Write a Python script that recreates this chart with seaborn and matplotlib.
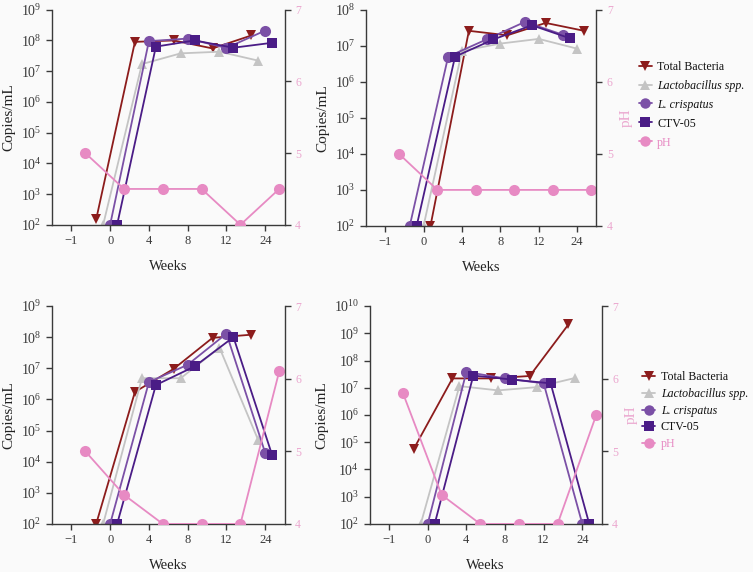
import numpy as np
import seaborn as sns
import matplotlib.pyplot as plt
from matplotlib.lines import Line2D
from matplotlib.ticker import LogLocator, NullLocator, LogFormatterMathtext

nan = np.nan

weeks = ["\u22121", "0", "4", "8", "12", "24"]
names = ["Total Bacteria", "Lactobacillus spp.", "L. crispatus", "CTV-05", "pH"]

# panel A (top left)
tb_a = [nan, 150, 9e7, 1.0e8, 5.5e7, 1.45e8]
lacto_a = [nan, 100, 1.7e7, 3.8e7, 4.3e7, 2.2e7]
crisp_a = [nan, 100, 9.5e7, 1.15e8, 5.7e7, 2.1e8]
ctv_a = [nan, 100, 6.3e7, 1.0e8, 5.8e7, 8.4e7]
ph_a = [5.0, 4.5, 4.5, 4.5, 4.0, 4.5]

# panel B (top right)
tb_b = [nan, 100, 2.6e7, 1.95e7, 4.3e7, 2.6e7]
lacto_b = [nan, 100, 7.2e6, 1.15e7, 1.55e7, 8.3e6]
crisp_b = [nan, 100, 5e6, 1.5e7, 4.6e7, 2e7]
ctv_b = [nan, 100, 5e6, 1.5e7, 3.7e7, 1.6e7]
ph_b = [5.0, 4.5, 4.5, 4.5, 4.5, 4.5]

# panel C (bottom left)
tb_c = [nan, 100, 1.75e6, 9.6e6, 9.5e7, 1.2e8]
lacto_c = [nan, 100, 4.8e6, 4.8e6, 4.6e7, 4.9e4]
crisp_c = [nan, 100, 3.6e6, 1.3e7, 1.3e8, 1.9e4]
ctv_c = [nan, 100, 2.9e6, 1.15e7, 1.0e8, 1.6e4]
ph_c = [5.0, 4.4, 4.0, 4.0, 4.0, 6.1]

# panel D (bottom right)
tb_d = [nan, 5.7e4, 2.2e7, 2.2e7, 2.7e7, 2.1e9]
lacto_d = [nan, 100, 1.15e7, 8e6, 1.05e7, 2.3e7]
crisp_d = [nan, 100, 3.8e7, 2.2e7, 1.45e7, 100]
ctv_d = [nan, 100, 2.8e7, 2e7, 1.45e7, 100]
ph_d = [5.8, 4.4, 4.0, 4.0, 4.0, 5.5]

colors = ["#8c1c1c", "#c4c4c4", "#7b50a6", "#4a1c86", "#e78ac3"]
markers = ["v", "^", "o", "s", "o"]
sizes = [7.5, 7.5, 8, 7.5, 8]
ph_text = "#eba7cf"

sns.set_style("ticks")
plt.rcParams['font.family'] = ['Liberation Serif', 'DejaVu Serif']
plt.rcParams['mathtext.fontset'] = 'custom'
plt.rcParams['mathtext.rm'] = 'Liberation Serif'
plt.rcParams['mathtext.default'] = 'regular'

bg = "#fafafa"
dark = "#3a3a3a"
fig = plt.figure(figsize=(7.53, 5.72), dpi=100, facecolor=bg)


def panel(rect, series, offsets, ymax, legend_at=None, spacing=0.5):
    ax = fig.add_axes(rect, facecolor=bg)
    ax2 = ax.twinx()
    ax.set_yscale('log')
    x = np.arange(len(weeks))
    for i in range(4):
        sns.lineplot(x=x + offsets[i], y=series[i], ax=ax, color=colors[i],
                     marker=markers[i], markersize=sizes[i], markeredgewidth=0,
                     linewidth=1.3)
    sns.lineplot(x=x + offsets[4], y=series[4], ax=ax2, color=colors[4],
                 marker=markers[4], markersize=sizes[4], markeredgewidth=0,
                 linewidth=1.3)
    ax.set_xlim(-0.5, 5.5)
    ax.set_ylim(1e2, ymax)
    ax.yaxis.set_major_locator(LogLocator(base=10, numticks=20))
    ax.yaxis.set_major_formatter(LogFormatterMathtext())
    ax.yaxis.set_minor_locator(NullLocator())
    ax.set_xticks(x)
    ax.set_xticklabels(weeks)
    ax2.set_ylim(4, 7)
    ax2.set_yticks([4, 5, 6, 7])
    ax2.tick_params(axis='y', labelcolor=ph_text, labelsize=8.5, color=dark,
                    length=4, width=1)
    ax.tick_params(axis='both', labelsize=9, labelcolor=dark, color=dark,
                   length=4, width=1)
    ax.tick_params(axis='y', labelsize=10)
    ax.set_xlabel("Weeks", fontsize=10.5, labelpad=9, color="#222")
    ax.set_ylabel("Copies/mL", fontsize=11, color="#222")
    for a in (ax, ax2):
        a.spines['top'].set_visible(False)
        for s in ('left', 'right', 'bottom'):
            a.spines[s].set_color(dark)
            a.spines[s].set_linewidth(1)
    ax.spines['right'].set_visible(False)
    ax2.spines['left'].set_visible(False)
    ax2.spines['bottom'].set_visible(False)
    ax2.set_ylabel("")
    if legend_at is not None:
        ax2.set_ylabel("pH", color=ph_text, fontsize=11, labelpad=5)
        handles = [Line2D([0], [0], color=colors[i], marker=markers[i],
                          markersize=sizes[i] - 0.5, markeredgewidth=0,
                          linewidth=1.3) for i in range(5)]
        leg = ax2.legend(handles, names, loc='center left',
                         bbox_to_anchor=legend_at, bbox_transform=fig.transFigure,
                         frameon=False, fontsize=8.6, handlelength=1.1,
                         handletextpad=0.45, labelspacing=spacing, borderpad=0,
                         borderaxespad=0)
        for i, t in enumerate(leg.get_texts()):
            if i in (1, 2):
                t.set_style('italic')
            t.set_color(colors[4] if i == 4 else "#111")
    return ax


order_std = [-0.36, -0.18, 0.0, 0.18, 0.36]
order_b = [0.18, 0.0, -0.36, -0.18, 0.36]

panel([0.069, 0.607, 0.309, 0.376],
      [tb_a, lacto_a, crisp_a, ctv_a, ph_a], order_std, 1e9)
panel([0.486, 0.605, 0.306, 0.378],
      [tb_b, lacto_b, crisp_b, ctv_b, ph_b], order_b, 1e8,
      legend_at=(0.848, 0.817), spacing=0.58)
panel([0.069, 0.084, 0.309, 0.381],
      [tb_c, lacto_c, crisp_c, ctv_c, ph_c], order_std, 1e9)
panel([0.491, 0.084, 0.308, 0.381],
      [tb_d, lacto_d, crisp_d, ctv_d, ph_d], order_std, 1e10,
      legend_at=(0.853, 0.282), spacing=0.4)

fig.savefig("out.png", dpi=100, facecolor=bg)
